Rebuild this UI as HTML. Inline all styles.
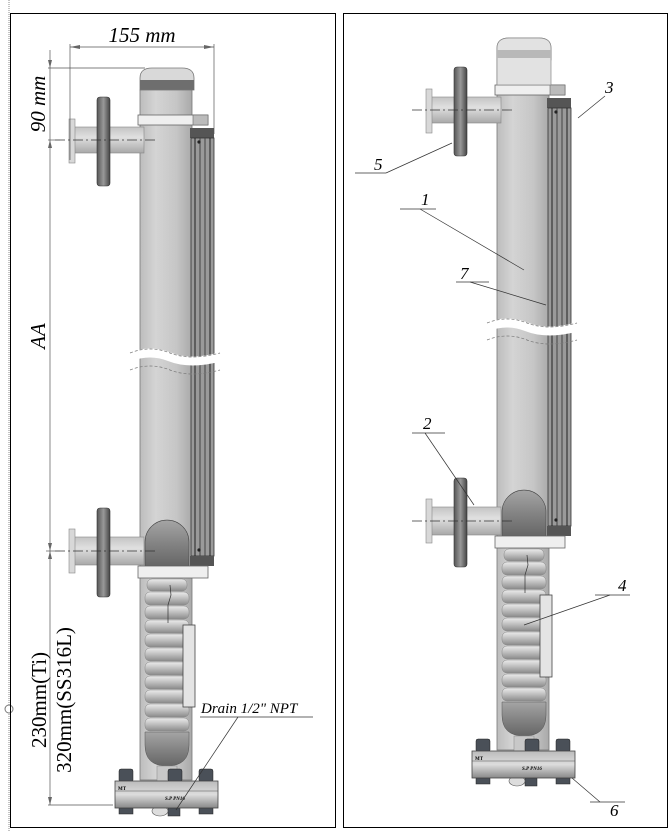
<!DOCTYPE html>
<html><head><meta charset="utf-8"><style>
html,body{margin:0;padding:0;background:#fff}
svg{display:block}
</style></head><body>
<svg width="670" height="832" viewBox="0 0 670 832" xmlns="http://www.w3.org/2000/svg" font-family="'Liberation Serif', serif">
<defs>
<linearGradient id="col" x1="0" x2="1"><stop offset="0" stop-color="#bdbdbd"/><stop offset="0.3" stop-color="#d4d4d4"/><stop offset="0.7" stop-color="#c6c6c6"/><stop offset="1" stop-color="#a9a9a9"/></linearGradient>
<linearGradient id="pipe" x1="0" y1="0" x2="0" y2="1"><stop offset="0" stop-color="#c4c4c4"/><stop offset="0.4" stop-color="#e0e0e0"/><stop offset="1" stop-color="#a8a8a8"/></linearGradient>
<linearGradient id="fl" x1="0" x2="1"><stop offset="0" stop-color="#555"/><stop offset="0.5" stop-color="#999"/><stop offset="1" stop-color="#444"/></linearGradient>
<linearGradient id="dome" x1="0" y1="0" x2="0" y2="1"><stop offset="0" stop-color="#a5a5a5"/><stop offset="0.5" stop-color="#848484"/><stop offset="1" stop-color="#666"/></linearGradient>
<linearGradient id="rib" x1="0" y1="0" x2="0" y2="1"><stop offset="0" stop-color="#ececec"/><stop offset="0.5" stop-color="#bdbdbd"/><stop offset="1" stop-color="#8a8a8a"/></linearGradient>
<linearGradient id="bf" x1="0" y1="0" x2="0" y2="1"><stop offset="0" stop-color="#bbb"/><stop offset="0.5" stop-color="#ddd"/><stop offset="1" stop-color="#888"/></linearGradient>
<g id="inst">
  <path d="M140 90 L140 78 Q140 68 152 68 L182 68 Q194 68 194 78 L194 90 Z" fill="#d9d9d9" stroke="#777" stroke-width="0.8"/>
  <rect x="140" y="80" width="54" height="10" fill="#6e6e6e"/>
  <rect x="140" y="90" width="52" height="690" fill="url(#col)" stroke="#777" stroke-width="0.8"/>
  <rect x="138" y="115" width="70" height="10" fill="#efefef" stroke="#666" stroke-width="0.8"/>
  <rect x="193" y="115" width="15" height="10" fill="#bbb" stroke="#666" stroke-width="0.6"/>
  <rect x="190" y="128" width="24" height="10" fill="#555"/>
  <rect x="191" y="138" width="23" height="418" fill="#9a9a9a" stroke="#333" stroke-width="0.8"/>
  <line x1="195" y1="138" x2="195" y2="556" stroke="#222" stroke-width="1"/>
  <line x1="200" y1="138" x2="200" y2="556" stroke="#444" stroke-width="1"/>
  <line x1="205" y1="138" x2="205" y2="556" stroke="#444" stroke-width="1"/>
  <line x1="210" y1="138" x2="210" y2="556" stroke="#222" stroke-width="1"/>
  <circle cx="199" cy="142" r="1.6" fill="#222"/>
  <circle cx="199" cy="550" r="1.6" fill="#222"/>
  <rect x="190" y="556" width="24" height="10" fill="#555"/>
  <rect x="74" y="127" width="70" height="26" fill="url(#pipe)" stroke="#888" stroke-width="0.6"/>
  <rect x="69" y="119" width="6" height="44" fill="#d8d8d8" stroke="#888" stroke-width="0.6"/>
  <rect x="97" y="97" width="13" height="89" rx="3" fill="url(#fl)" stroke="#333" stroke-width="0.6"/>
  <line x1="55" y1="140" x2="156" y2="140" stroke="#333" stroke-width="0.7" stroke-dasharray="10 3 2 3"/>
  <path d="M130 357 q20 -8 40 0 t50 0" fill="none" stroke="#fff" stroke-width="9"/>
  <path d="M130 353 q20 -8 40 0 t50 0" fill="none" stroke="#777" stroke-width="0.7" stroke-dasharray="3 2"/>
  <path d="M130 370 q20 -8 40 0 t50 0" fill="none" stroke="#777" stroke-width="0.7" stroke-dasharray="3 2"/>
  <rect x="74" y="537" width="70" height="28" fill="url(#pipe)" stroke="#888" stroke-width="0.6"/>
  <rect x="69" y="529" width="6" height="44" fill="#d8d8d8" stroke="#888" stroke-width="0.6"/>
  <rect x="97" y="508" width="13" height="89" rx="3" fill="url(#fl)" stroke="#333" stroke-width="0.6"/>
  <path d="M145 566 L145 542 A22 22 0 0 1 189 542 L189 566 Z" fill="url(#dome)" stroke="#444" stroke-width="0.6"/>
  <line x1="55" y1="551" x2="156" y2="551" stroke="#333" stroke-width="0.7" stroke-dasharray="10 3 2 3"/>
  <rect x="138" y="566" width="70" height="12" fill="#efefef" stroke="#666" stroke-width="0.8"/>
  <g fill="url(#rib)" stroke="#888" stroke-width="0.5">
    <rect x="147" y="579" width="40" height="12" rx="5"/>
    <rect x="145" y="592" width="44" height="13" rx="5"/>
    <rect x="145" y="606" width="44" height="13" rx="5"/>
    <rect x="145" y="620" width="44" height="13" rx="5"/>
    <rect x="145" y="634" width="44" height="13" rx="5"/>
    <rect x="145" y="648" width="44" height="13" rx="5"/>
    <rect x="145" y="662" width="44" height="13" rx="5"/>
    <rect x="145" y="676" width="44" height="13" rx="5"/>
    <rect x="145" y="690" width="44" height="13" rx="5"/>
    <rect x="145" y="704" width="44" height="13" rx="5"/>
    <rect x="145" y="718" width="44" height="13" rx="5"/>
  </g>
  <path d="M145 732 L189 732 L189 745 Q189 766 167 766 Q145 766 145 745 Z" fill="url(#dome)" stroke="#555" stroke-width="0.5"/>
  <path d="M170 585 l1 10 l-3 10 l0 18" fill="none" stroke="#333" stroke-width="0.7"/>
  <rect x="157" y="766" width="20" height="16" fill="#c8c8c8" stroke="#888" stroke-width="0.5"/>
  <rect x="183" y="625" width="12" height="82" fill="#e4e4e4" stroke="#444" stroke-width="0.8"/>
  <g fill="#4a5058" stroke="#222" stroke-width="0.5">
    <rect x="119" y="769" width="14" height="13" rx="2"/>
    <rect x="168" y="769" width="14" height="13" rx="2"/>
    <rect x="199" y="769" width="14" height="13" rx="2"/>
    <rect x="119" y="808" width="14" height="6"/>
    <rect x="199" y="808" width="14" height="6"/>
    <rect x="168" y="808" width="12" height="8"/>
  </g>
  <ellipse cx="160" cy="811" rx="8" ry="5" fill="#ddd" stroke="#555" stroke-width="0.6"/>
  <rect x="115" y="781" width="103" height="27" fill="url(#bf)" stroke="#444" stroke-width="0.8"/>
  <line x1="115" y1="791" x2="218" y2="791" stroke="#555" stroke-width="0.6"/>
  <text x="118" y="790" font-size="5" font-weight="bold">MT</text>
  <text x="165" y="800" font-size="5" font-weight="bold" font-style="italic">S.P PN16</text>
</g>
</defs>

<line x1="9" y1="0" x2="9" y2="832" stroke="#888" stroke-width="1" stroke-dasharray="1 1"/>
<circle cx="9" cy="709" r="4" fill="#fff" stroke="#777" stroke-width="1"/>

<rect x="10.5" y="13.5" width="325" height="814" fill="none" stroke="#000" stroke-width="1"/>
<rect x="343.5" y="13.5" width="324" height="814" fill="none" stroke="#000" stroke-width="1"/>

<use href="#inst"/>
<g stroke="#555" stroke-width="0.7" fill="none">
  <line x1="70" y1="44" x2="70" y2="160"/>
  <line x1="214" y1="44" x2="214" y2="134"/>
  <line x1="70" y1="47" x2="214" y2="47"/>
  <line x1="48" y1="68" x2="145" y2="68"/>
  <line x1="48" y1="140" x2="60" y2="140"/>
  <line x1="50" y1="50" x2="50" y2="805"/>
  <line x1="46" y1="551" x2="60" y2="551"/>
  <line x1="48" y1="805" x2="113" y2="805"/>
</g>
<g fill="#666">
  <path d="M70 47 l10 -2 v4 z"/><path d="M214 47 l-10 -2 v4 z"/>
  <path d="M50 68 l-2 -8 h4 z"/><path d="M50 140 l-2 8 h4 z"/>
  <path d="M50 551 l-2 -8 h4 z"/><path d="M50 551 l-2 8 h4 z"/>
  <path d="M50 805 l-2 -8 h4 z"/>
</g>
<text x="142" y="42" font-size="21" font-style="italic" text-anchor="middle">155 mm</text>
<text transform="translate(45,104) rotate(-90)" font-size="21" font-style="italic" text-anchor="middle">90 mm</text>
<text transform="translate(45,336) rotate(-90)" font-size="21" font-style="italic" text-anchor="middle">AA</text>
<text transform="translate(46,700) rotate(-90)" font-size="21" text-anchor="middle">230mm(Ti)</text>
<text transform="translate(71,700) rotate(-90)" font-size="21" text-anchor="middle">320mm(SS316L)</text>
<text x="201" y="713" font-size="15" font-style="italic">Drain 1/2" NPT</text>
<line x1="200" y1="717" x2="313" y2="717" stroke="#333" stroke-width="0.7"/>
<line x1="238" y1="717" x2="176" y2="810" stroke="#333" stroke-width="0.7"/>

<use href="#inst" transform="translate(357,-30)"/>
<path d="M497 85 L497 48 Q497 38 509 38 L539 38 Q551 38 551 48 L551 85 Z" fill="#e2e2e2" stroke="#888" stroke-width="0.7"/>
<rect x="497" y="50" width="54" height="8" fill="#b8b8b8"/>
<g stroke="#333" stroke-width="0.7" fill="none">
  <line x1="605" y1="96" x2="578" y2="118"/>
  <line x1="355" y1="173" x2="386" y2="173"/><line x1="386" y1="173" x2="452" y2="143"/>
  <line x1="400" y1="209" x2="436" y2="209"/><line x1="420" y1="209" x2="524" y2="270"/>
  <line x1="456" y1="282" x2="489" y2="282"/><line x1="470" y1="282" x2="546" y2="305"/>
  <line x1="412" y1="433" x2="445" y2="433"/><line x1="425" y1="433" x2="474" y2="505"/>
  <line x1="595" y1="595" x2="630" y2="595"/><line x1="610" y1="595" x2="524" y2="625"/>
  <line x1="590" y1="802" x2="625" y2="802"/><line x1="600" y1="802" x2="572" y2="778"/>
</g>
<g font-size="17" font-style="italic">
  <text x="605" y="93">3</text>
  <text x="374" y="170">5</text>
  <text x="421" y="205">1</text>
  <text x="460" y="279">7</text>
  <text x="423" y="429">2</text>
  <text x="618" y="591">4</text>
  <text x="610" y="816">6</text>
</g>
</svg>
</body></html>
